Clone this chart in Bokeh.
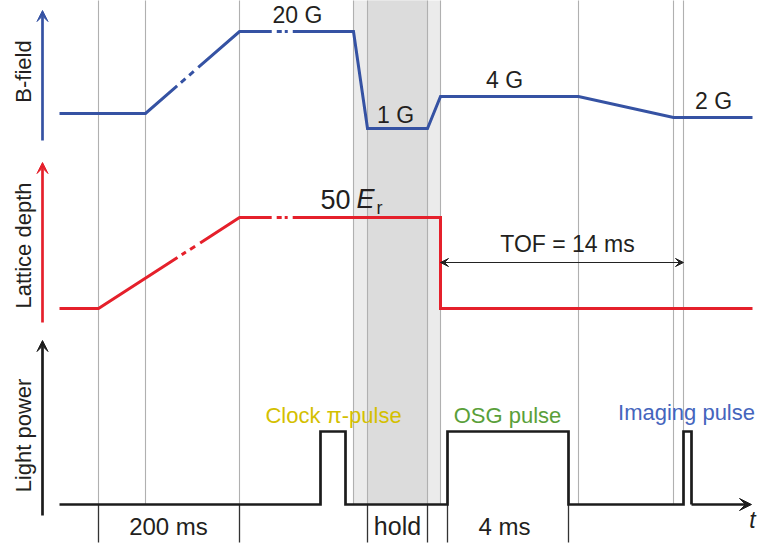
from bokeh.plotting import figure
from bokeh.models import Range1d, Label, Arrow, VeeHead
from bokeh.embed import file_html
from bokeh.resources import INLINE

# ---------------- data (schematic time axis, arbitrary units as drawn) ----------------
GUIDE_T = [98, 145, 239, 353, 367, 427, 440, 578, 673, 683]      # thin vertical guides
HOLD_OUTER = [353, 440]                                          # light shading
HOLD_INNER = [367, 427]                                          # darker shading

# B-field trace (levels in arbitrary display units above panel base)
B_T = [59, 145, 239, 353, 367, 427, 440, 578, 673, 752]
B_LEVEL = [27, 27, 109, 109, 12, 12, 44, 44, 23, 23]
B_LABELS = ["20 G", "1 G", "4 G", "2 G"]

# Lattice depth trace
LAT_T = [59, 98, 239, 440, 440, 752]
LAT_LEVEL = [14, 14, 105, 105, 14, 14]
LAT_LABEL = ["50", "E", "r"]

# Light power trace
LIGHT_T = [59, 320, 320, 345, 345, 447, 447, 568, 568, 683, 683, 691, 691]
LIGHT_LEVEL = [11, 11, 84, 84, 11, 11, 84, 84, 11, 11, 84, 84, 11]
PULSE_NAMES = ["Clock π-pulse", "OSG pulse", "Imaging pulse"]

# time intervals marked below the axis
INTERVAL_EDGES = [98, 239, 367, 427, 447, 568]
INTERVAL_LABELS = ["200 ms", "hold", "4 ms"]
TOF_SPAN = [440, 683]
TOF_LABEL = "TOF = 14 ms"
Y_LABELS = ["B-field", "Lattice depth", "Light power"]

# ---------------- layout / style ----------------
W, H = 758, 544
X0, Y0 = 0, 0
B_BASE, LAT_BASE, LIGHT_BASE = 140, 322, 515
BLUE, RED, BLACK = "#3552a3", "#e5202b", "#1c1c1c"
TXT = "#231f20"
FONT = "Liberation Sans"
BASE_SHIFT = 0.35   # compensation of the rendered text baseline (in em)


def panel_range(base):
    return Range1d(base - (Y0 + H), base - Y0)


p = figure(width=W, height=H, output_backend="svg", toolbar_location=None,
           x_range=Range1d(X0, X0 + W), y_range=panel_range(LIGHT_BASE),
           x_axis_location=None, y_axis_location=None, min_border=0)
p.extra_y_ranges = {"b": panel_range(B_BASE), "lat": panel_range(LAT_BASE)}
p.xgrid.visible = False
p.ygrid.visible = False
p.outline_line_color = None
p.background_fill_color = "white"
p.border_fill_color = "white"

TOP = 600  # guides run from the light-power baseline up past the top

# shading for the hold period
p.quad(left=[HOLD_OUTER[0]], right=[HOLD_OUTER[1]], bottom=[LIGHT_LEVEL[0]], top=[TOP],
       fill_color="#ebebeb", line_color=None)
p.quad(left=[HOLD_INNER[0]], right=[HOLD_INNER[1]], bottom=[LIGHT_LEVEL[0]], top=[TOP],
       fill_color="#dcdcdc", line_color=None)

# vertical guides
p.segment(x0=GUIDE_T, x1=GUIDE_T, y0=[LIGHT_LEVEL[0]] * len(GUIDE_T), y1=[TOP] * len(GUIDE_T),
          line_color="#b0b0b0", line_width=1.1)
# interval ticks below the time axis
p.segment(x0=INTERVAL_EDGES, x1=INTERVAL_EDGES, y0=[LIGHT_LEVEL[0]] * len(INTERVAL_EDGES),
          y1=[-27] * len(INTERVAL_EDGES), line_color="#333333", line_width=1.3)

# traces
p.line(B_T, B_LEVEL, y_range_name="b", line_color=BLUE, line_width=3, line_join="miter",
       line_dash="128 5 6 5 6 6 87 5 5 3 3 5 3000 1")
p.line(LAT_T, LAT_LEVEL, y_range_name="lat", line_color=RED, line_width=3, line_join="miter",
       line_dash="133 5 5 5 6 6 79 5 5 3 3 5 3000 1")
p.line(LIGHT_T, LIGHT_LEVEL, line_color=BLACK, line_width=2.7, line_join="miter")
p.add_layout(Arrow(x_start=LIGHT_T[-1], y_start=LIGHT_LEVEL[-1], x_end=751, y_end=LIGHT_LEVEL[-1],
                   line_color=BLACK, line_width=2.7,
                   end=VeeHead(size=12, fill_color=BLACK, line_color=BLACK, line_width=1)))

# y-axis arrows
for rng, col, length in (("b", BLUE, 130), ("lat", RED, 160), ("default", BLACK, 175)):
    p.add_layout(Arrow(x_start=42, y_start=0, x_end=42, y_end=length, y_range_name=rng,
                       line_color=col, line_width=2.7,
                       end=VeeHead(size=11, fill_color=col, line_color=col, line_width=1)))

# TOF arrow
p.add_layout(Arrow(x_start=TOF_SPAN[0], y_start=60, x_end=TOF_SPAN[1], y_end=60, y_range_name="lat",
                   line_color="#222222", line_width=1.2,
                   start=VeeHead(size=8, fill_color="#222222", line_color="#222222", line_width=1),
                   end=VeeHead(size=8, fill_color="#222222", line_color="#222222", line_width=1)))


def label(text, x, y, rng="default", size=23, color=TXT, align="center", style="normal",
          angle=0.0):
    shift = BASE_SHIFT * size
    if angle:
        x = x - shift
    else:
        y = y + shift
    p.add_layout(Label(x=x, y=y, text=text, y_range_name=rng, text_font=FONT,
                       text_font_size=f"{size}px", text_color=color, text_align=align,
                       text_baseline="alphabetic", text_font_style=style, angle=angle,
                       angle_units="deg"))


# y labels
label(Y_LABELS[0], 31, 69, rng="b", size=22, angle=90)
label(Y_LABELS[1], 31, 77, rng="lat", size=22, angle=90)
label(Y_LABELS[2], 31, 80, size=22, angle=90)

# B-field values
for txt, x, y in zip(B_LABELS, [297, 395, 504, 713], [117, 17, 52, 31]):
    label(txt, x, y, rng="b", size=23)

# lattice depth value: 50 E_r
label(LAT_LABEL[0], 320, 114, rng="lat", size=27, align="left")
label(LAT_LABEL[1], 356, 114, rng="lat", size=27, align="left", style="italic")
label(LAT_LABEL[2], 376, 108, rng="lat", size=18, align="left")

label(TOF_LABEL, 567, 70, rng="lat", size=23)

# pulse names
label(PULSE_NAMES[0], 333, 92, size=22, color="#d4c000")
label(PULSE_NAMES[1], 507, 92, size=22, color="#5a9f3a")
label(PULSE_NAMES[2], 686, 95, size=22, color="#4565bd")

# interval labels
for txt, x in zip(INTERVAL_LABELS, [168, 397, 504]):
    label(txt, x, -19, size=25 if txt == "hold" else 24)
label("t", 752, -13, size=23, style="italic")

open("out.html", "w").write(file_html(p, INLINE))
